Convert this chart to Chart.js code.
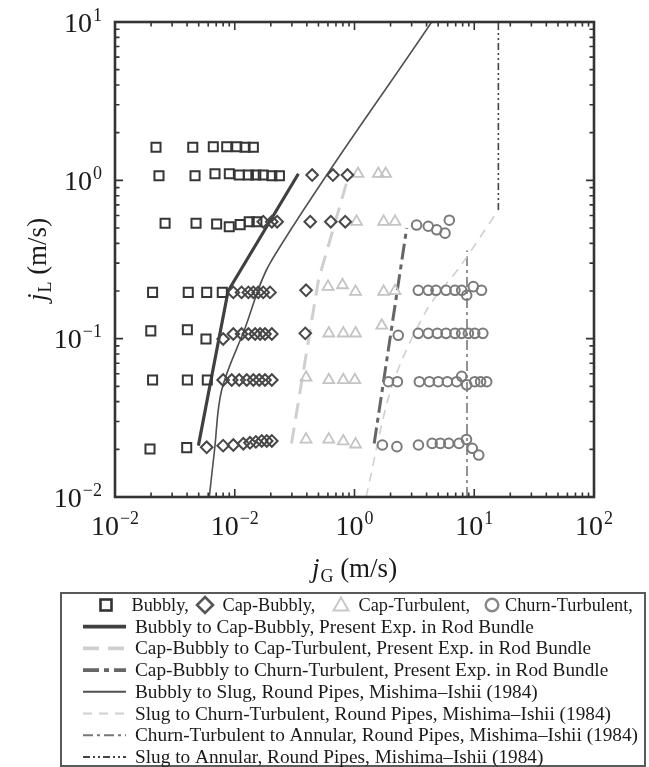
<!DOCTYPE html>
<html>
<head>
<meta charset="utf-8">
<script src="https://cdn.jsdelivr.net/npm/chart.js@4.4.0/dist/chart.umd.min.js"></script>
<style>
html,body{margin:0;padding:0;background:#fff;}
#c{display:block;}
</style>
</head>
<body>
<canvas id="c" width="649" height="767"></canvas>
<script>
// ---------- tick labels (as printed in the figure: base and exponent) ----------
const tickBase = '10';
const xTickExponents = ['\u22122', '\u22122', '0', '1', '2'];
const yTickExponents = ['\u22122', '\u22121', '0', '1'];

// ---------- flow regime data (jG, jL in m/s) ----------
const bubblyX = [0.022,0.0446,0.0662,0.0857,0.104,0.122,0.143,
  0.0233,0.0466,0.0684,0.0901,0.109,0.130,0.150,0.173,0.204,0.236,
  0.0262,0.0475,0.0706,0.090,0.111,0.132,0.153,
  0.0206,0.0409,0.0583,0.0787,
  0.0199,0.0402,0.0575,
  0.0206,0.0402,0.059,
  0.0196,0.0397];
const bubblyY = [1.62,1.62,1.63,1.63,1.63,1.62,1.62,
  1.07,1.07,1.10,1.10,1.08,1.08,1.08,1.08,1.07,1.07,
  0.535,0.535,0.53,0.509,0.525,0.548,0.548,
  0.196,0.196,0.196,0.196,
  0.112,0.114,0.0995,
  0.0548,0.0548,0.0548,
  0.0201,0.0205];

const capBubblyX = [0.443,0.661,0.873,
  0.173,0.204,0.226,0.427,0.634,0.837,
  0.0973,0.114,0.130,0.143,0.157,0.173,0.197,0.394,
  0.080,0.0973,0.114,0.130,0.148,0.163,0.179,0.204,0.388,
  0.080,0.0944,0.109,0.126,0.143,0.160,0.179,0.204,
  0.0583,0.080,0.0973,0.118,0.134,0.150,0.168,0.185,0.204];
const capBubblyY = [1.08,1.08,1.08,
  0.548,0.548,0.548,0.548,0.548,0.548,
  0.196,0.196,0.196,0.196,0.196,0.196,0.196,0.202,
  0.0995,0.107,0.107,0.107,0.107,0.107,0.107,0.107,0.108,
  0.0548,0.0548,0.0548,0.0548,0.0548,0.0548,0.0548,0.0548,
  0.0206,0.0211,0.0213,0.0217,0.022,0.0223,0.0226,0.0226,0.0226];

const capTurbX = [1.07,1.58,1.82,
  1.04,1.75,2.18,
  0.601,0.793,1.02,1.75,2.18,
  0.610,0.806,1.02,1.69,
  0.394,0.610,0.806,1.006,
  0.394,0.610,0.806,1.02];
const capTurbY = [1.10,1.10,1.10,
  0.548,0.548,0.548,
  0.213,0.218,0.198,0.198,0.200,
  0.108,0.108,0.108,0.121,
  0.0568,0.0548,0.0548,0.0548,
  0.0231,0.0231,0.0225,0.0215];

const churnX = [3.30,4.13,4.86,5.70,6.19,
  3.41,4.13,4.79,5.81,6.90,7.85,8.65,9.82,11.5,
  2.32,3.41,4.13,4.92,5.81,6.90,7.85,8.93,10.1,11.8,
  1.92,2.28,3.48,4.22,5.01,5.96,7.13,7.85,8.65,10.1,11.3,12.7,
  1.71,2.26,3.42,4.45,5.21,6.12,7.46,8.61,9.63,10.9];
const churnY = [0.522,0.513,0.487,0.464,0.56,
  0.202,0.202,0.202,0.202,0.202,0.202,0.188,0.213,0.202,
  0.105,0.108,0.108,0.108,0.108,0.108,0.108,0.108,0.108,0.108,
  0.0535,0.0535,0.0535,0.0535,0.0535,0.0535,0.0535,0.0578,0.0511,0.0535,0.0535,0.0535,
  0.0213,0.0208,0.0213,0.0218,0.0218,0.0218,0.0218,0.0231,0.0203,0.0184];

// ---------- transition boundaries ----------
const bubblyCapX = [0.0497,0.088,0.34];
const bubblyCapY = [0.0211,0.20,1.10];
const capBubCapTurbX = [0.298,0.50,0.88];
const capBubCapTurbY = [0.0218,0.235,1.03];
const capBubChurnX = [1.46,2.73];
const capBubChurnY = [0.0218,0.50];
const bubblySlugX = [0.0613,0.0678,0.0778,0.12,0.204,4.41];
const bubblySlugY = [0.01,0.0198,0.0474,0.113,0.314,10];
const slugChurnX = [1.25,2.05,4.01,7.6,15.9];
const slugChurnY = [0.01,0.0498,0.152,0.285,0.65];
const churnAnnularX = [8.7,8.7];
const churnAnnularY = [0.01,0.36];
const slugAnnularX = [15.9,15.9];
const slugAnnularY = [0.65,10];

const legendRow1 = ['Bubbly,', 'Cap-Bubbly,', 'Cap-Turbulent,', 'Churn-Turbulent,'];
const legendLines = [
  'Bubbly to Cap-Bubbly, Present Exp. in Rod Bundle',
  'Cap-Bubbly to Cap-Turbulent, Present Exp. in Rod Bundle',
  'Cap-Bubbly to Churn-Turbulent, Present Exp. in Rod Bundle',
  'Bubbly to Slug, Round Pipes, Mishima\u2013Ishii (1984)',
  'Slug to Churn-Turbulent, Round Pipes, Mishima\u2013Ishii (1984)',
  'Churn-Turbulent to Annular, Round Pipes, Mishima\u2013Ishii (1984)',
  'Slug to Annular, Round Pipes, Mishima\u2013Ishii (1984)'
];

// ---------- styles ----------
const SERIF = "'Liberation Serif','DejaVu Serif','Times New Roman',serif";
const C_SQ = '#363636', C_DIA = '#474747', C_TRI = '#c4c4c4', C_CIR = '#7a7a7a';
const lineStyles = [
  {c:'#404040', w:3.2, d:[]},
  {c:'#cfcfcf', w:3.0, d:[16,9]},
  {c:'#666666', w:3.0, d:[16,5,5,5]},
  {c:'#505050', w:1.6, d:[]},
  {c:'#cfcfcf', w:1.6, d:[9,7]},
  {c:'#777777', w:1.6, d:[10,4,3,4]},
  {c:'#444444', w:1.6, d:[7,3,2,3,2,3]}
];

const pts = (xs, ys) => xs.map((x, i) => ({x: x, y: ys[i]}));
const lineSets = [
  [bubblyCapX, bubblyCapY, 0],
  [capBubCapTurbX, capBubCapTurbY, 0],
  [capBubChurnX, capBubChurnY, 0],
  [bubblySlugX, bubblySlugY, 0.35],
  [slugChurnX, slugChurnY, 0.3],
  [churnAnnularX, churnAnnularY, 0],
  [slugAnnularX, slugAnnularY, 0]
];

const markerSets = [
  {data: pts(bubblyX, bubblyY), pointStyle: 'rect', pointRadius: 6.4, borderColor: C_SQ, pointBorderWidth: 2},
  {data: pts(capBubblyX, capBubblyY), pointStyle: 'rectRot', pointRadius: 5.8, borderColor: C_DIA, pointBorderWidth: 2},
  {data: pts(capTurbX, capTurbY), pointStyle: 'triangle', pointRadius: 6.3, borderColor: C_TRI, pointBorderWidth: 1.8},
  {data: pts(churnX, churnY), pointStyle: 'circle', pointRadius: 4.8, borderColor: C_CIR, pointBorderWidth: 2}
];

const datasets = [];
markerSets.forEach(m => datasets.push({
  data: m.data, showLine: false, pointStyle: m.pointStyle, pointRadius: m.pointRadius,
  pointBorderColor: m.borderColor, borderColor: m.borderColor, pointBackgroundColor: 'rgba(0,0,0,0)',
  backgroundColor: 'rgba(0,0,0,0)', pointBorderWidth: m.pointBorderWidth, pointHoverRadius: m.pointRadius
}));
lineSets.forEach((l, i) => datasets.push({
  data: pts(l[0], l[1]), showLine: true, pointRadius: 0, pointHoverRadius: 0,
  borderColor: lineStyles[i].c, borderWidth: lineStyles[i].w, borderDash: lineStyles[i].d,
  tension: l[2], fill: false, borderCapStyle: 'butt'
}));

// draws "10" with a raised exponent; align: 'center' or 'right'
function drawPow(ctx, x, baseline, exp, align) {
  const big = '28px ' + SERIF, small = '18px ' + SERIF;
  ctx.font = big; const wb = ctx.measureText(tickBase).width;
  ctx.font = small; const we = ctx.measureText(exp).width;
  const tot = wb + 1 + we;
  let x0 = align === 'right' ? x - tot : x - tot / 2;
  ctx.textAlign = 'left';
  ctx.textBaseline = 'alphabetic';
  ctx.fillStyle = '#1a1a1a';
  ctx.font = big; ctx.fillText(tickBase, x0, baseline);
  ctx.font = small; ctx.fillText(exp, x0 + wb + 1, baseline - 11);
}

// inward ticks on all four sides + frame + tick labels
const frameTicks = {
  id: 'frameTicks',
  afterDatasetsDraw(chart) {
    const {ctx, chartArea: a} = chart;
    const xs = chart.scales.x, ys = chart.scales.y;
    ctx.save();
    ctx.strokeStyle = '#333';
    ctx.lineWidth = 1.6;
    ctx.beginPath();
    for (let e = -2; e <= 1; e++) for (let m = 1; m <= 9; m++) {
      const v = m * Math.pow(10, e);
      const p = xs.getPixelForValue(v);
      const L = m === 1 ? 8 : 4.5;
      ctx.moveTo(p, a.bottom); ctx.lineTo(p, a.bottom - L);
      ctx.moveTo(p, a.top); ctx.lineTo(p, a.top + L);
    }
    for (let e = -2; e <= 0; e++) for (let m = 1; m <= 9; m++) {
      const v = m * Math.pow(10, e);
      const p = ys.getPixelForValue(v);
      const L = m === 1 ? 8 : 4.5;
      ctx.moveTo(a.left, p); ctx.lineTo(a.left + L, p);
      ctx.moveTo(a.right, p); ctx.lineTo(a.right - L, p);
    }
    ctx.stroke();
    ctx.lineWidth = 2.6;
    ctx.strokeRect(a.left, a.top, a.right - a.left, a.bottom - a.top);
    // tick labels at the library's scale positions
    xTickExponents.forEach((ex, i) => {
      const p = xs.getPixelForValue(Math.pow(10, i - 2));
      drawPow(ctx, p, a.bottom + 38, ex, 'center');
    });
    yTickExponents.forEach((ex, i) => {
      const p = ys.getPixelForValue(Math.pow(10, i - 2));
      drawPow(ctx, a.left - 13, p + 9.5, ex, 'right');
    });
    ctx.restore();
  }
};

function drawJTitle(ctx, cx, cy, sub) {
  const big = '27px ' + SERIF, small = '18px ' + SERIF;
  ctx.font = 'italic ' + big; const wj = ctx.measureText('j').width;
  ctx.font = small; const ws = ctx.measureText(sub).width;
  ctx.font = big; const wr = ctx.measureText(' (m/s)').width;
  const tot = wj + 1 + ws + wr;
  let x = cx - tot / 2;
  ctx.textBaseline = 'alphabetic';
  ctx.textAlign = 'left';
  ctx.fillStyle = '#1a1a1a';
  const base = cy + 9;
  ctx.font = 'italic ' + big; ctx.fillText('j', x, base); x += wj + 1;
  ctx.font = small; ctx.fillText(sub, x, base + 5); x += ws;
  ctx.font = big; ctx.fillText(' (m/s)', x, base);
}

const extras = {
  id: 'extras',
  afterDraw(chart) {
    const ctx = chart.ctx;
    const a = chart.chartArea;
    ctx.save();
    // axis titles
    drawJTitle(ctx, (a.left + a.right) / 2, 568, 'G');
    ctx.save();
    ctx.translate(37, (a.top + a.bottom) / 2);
    ctx.rotate(-Math.PI / 2);
    drawJTitle(ctx, 0, 0, 'L');
    ctx.restore();

    // legend box
    ctx.strokeStyle = '#5a5a5a';
    ctx.lineWidth = 2;
    ctx.strokeRect(61, 593, 645 - 61, 766 - 593);
    ctx.fillStyle = '#1a1a1a';
    ctx.textBaseline = 'middle';
    ctx.textAlign = 'left';
    ctx.font = '18.3px ' + SERIF;
    const r1 = 605;
    ctx.lineWidth = 2.6; ctx.strokeStyle = '#333';
    ctx.strokeRect(106 - 5.5, r1 - 5.5, 11, 11);
    ctx.fillText(legendRow1[0], 131.5, r1 + 1);
    ctx.strokeStyle = '#555'; ctx.lineWidth = 2.6;
    ctx.beginPath(); ctx.moveTo(205, r1 - 8); ctx.lineTo(213, r1); ctx.lineTo(205, r1 + 8); ctx.lineTo(197, r1); ctx.closePath(); ctx.stroke();
    ctx.fillText(legendRow1[1], 222.5, r1 + 1);
    ctx.strokeStyle = '#c8c8c8'; ctx.lineWidth = 2;
    ctx.beginPath(); ctx.moveTo(341, r1 - 7.5); ctx.lineTo(348.5, r1 + 5.5); ctx.lineTo(333.5, r1 + 5.5); ctx.closePath(); ctx.stroke();
    ctx.fillText(legendRow1[2], 358.5, r1 + 1);
    ctx.strokeStyle = '#888'; ctx.lineWidth = 2.4;
    ctx.beginPath(); ctx.arc(492, r1, 6.3, 0, Math.PI * 2); ctx.stroke();
    ctx.fillText(legendRow1[3], 505, r1 + 1);

    ctx.font = '19.3px ' + SERIF;
    for (let i = 0; i < legendLines.length; i++) {
      const y = 626.7 + i * 21.7;
      const st = lineStyles[i];
      ctx.strokeStyle = st.c;
      ctx.lineWidth = st.w + (i < 3 ? 0.6 : 0.4);
      ctx.setLineDash(st.d);
      ctx.lineCap = 'butt';
      ctx.beginPath(); ctx.moveTo(83, y); ctx.lineTo(126, y); ctx.stroke();
      ctx.setLineDash([]);
      ctx.fillText(legendLines[i], 135, y + 1);
    }
    ctx.restore();
  }
};

new Chart(document.getElementById('c'), {
  type: 'scatter',
  data: {datasets: datasets},
  options: {
    responsive: false,
    animation: false,
    devicePixelRatio: 1,
    events: [],
    layout: {padding: {left: 0, right: 55, top: 22, bottom: 210}},
    plugins: {legend: {display: false}, tooltip: {enabled: false}},
    scales: {
      x: {
        type: 'logarithmic', min: 0.01, max: 100, position: 'bottom',
        grid: {display: false, drawTicks: false},
        border: {display: false},
        ticks: {display: false},
        afterFit(scale) { scale.height = 60; }
      },
      y: {
        type: 'logarithmic', min: 0.01, max: 10, position: 'left',
        grid: {display: false, drawTicks: false},
        border: {display: false},
        ticks: {display: false},
        afterFit(scale) { scale.width = 115; }
      }
    }
  },
  plugins: [frameTicks, extras]
});
</script>
</body>
</html>
